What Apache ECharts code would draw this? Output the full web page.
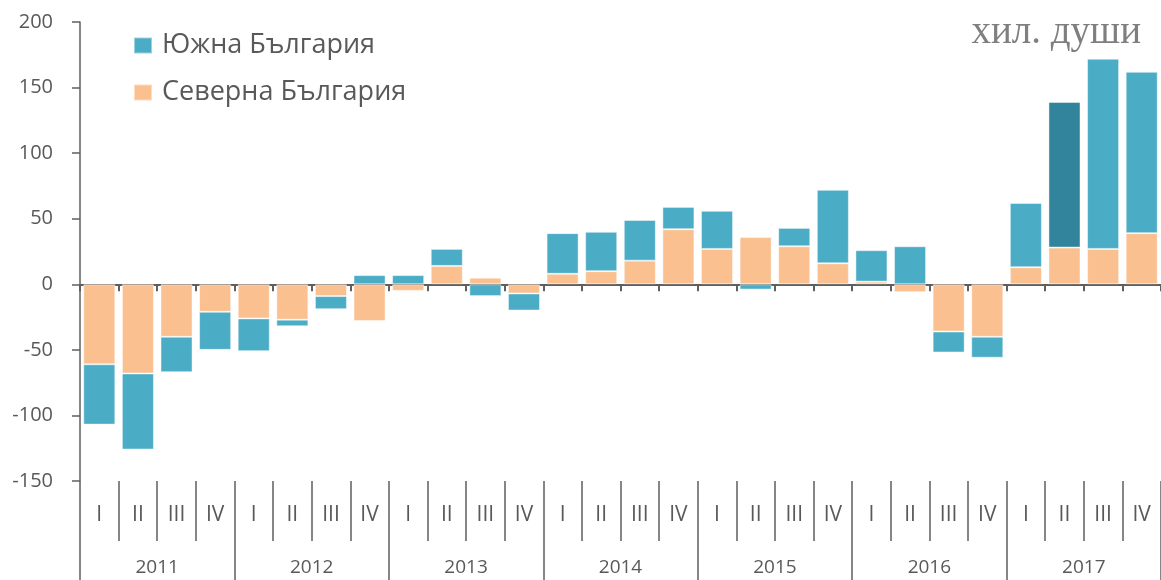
<!DOCTYPE html>
<html>
<head>
<meta charset="utf-8">
<script src="https://cdn.jsdelivr.net/npm/echarts@6/dist/echarts.min.js"></script>
<style>
  html, body { margin: 0; padding: 0; background: #fff; }
  #chart { width: 1161px; height: 580px; }
</style>
</head>
<body>
<div id="chart"></div>
<script>
var quarters = ['I', 'II', 'III', 'IV', 'I', 'II', 'III', 'IV', 'I', 'II', 'III', 'IV', 'I', 'II',
  'III', 'IV', 'I', 'II', 'III', 'IV', 'I', 'II', 'III', 'IV', 'I', 'II', 'III', 'IV'];
var years = ['2011', '2012', '2013', '2014', '2015', '2016', '2017'];
var north = [-61, -68, -40, -21, -26, -27, -9, -28, -5, 14, 5, -7, 8, 10,
  18, 42, 27, 36, 29, 16, 2, -6, -36, -40, 13, 28, 27, 39];
var south = [-46, -58, -27, -29, -25, -5, -10, 7, 7, 13, -9, -13, 31, 30,
  31, 17, 29, -4, 14, 56, 24, 29, -16, -16, 49, 111, 145, 123];
var yTicks = [-150, -100, -50, 0, 50, 100, 150, 200];
var highlightIdx = 25; // 2017 II

var myChart = echarts.init(document.getElementById('chart'));
var axisColor = '#5f5f5f';
var textColor = '#595959';
var font = 'Open Sans';

var southData = south.map(function (v, i) {
  if (i === highlightIdx) {
    return { value: v, itemStyle: { color: '#31849b' } };
  }
  return v;
});

var option = {
  animation: false,
  title: {
    text: 'хил. души',
    right: 15,
    top: 8,
    textStyle: {
      fontFamily: 'Liberation Serif',
      fontWeight: 'normal',
      fontSize: 39,
      color: '#7f7f7f'
    }
  },
  legend: {
    data: ['Южна България', 'Северна България'],
    orient: 'vertical',
    left: 128,
    top: 27,
    itemWidth: 18,
    itemHeight: 16,
    itemGap: 20,
    icon: 'rect',
    textStyle: {
      fontFamily: font,
      fontSize: 27,
      color: textColor,
      padding: [0, 0, 0, 5]
    }
  },
  grid: {
    left: 80,
    right: -5,
    top: 22,
    bottom: 99
  },
  xAxis: [
    {
      type: 'category',
      data: quarters,
      position: 'bottom',
      axisLine: { onZero: true, lineStyle: { color: axisColor, width: 2 } },
      axisTick: { show: true, length: 7, interval: 0, lineStyle: { color: axisColor, width: 2 } },
      axisLabel: { show: false }
    },
    {
      type: 'category',
      data: quarters,
      position: 'bottom',
      axisLine: { show: false, onZero: false },
      axisTick: { show: true, length: 60, interval: 0, lineStyle: { color: axisColor, width: 1.5 } },
      axisLabel: {
        interval: 0,
        margin: 24,
        fontFamily: font,
        fontSize: 21,
        color: textColor
      }
    },
    {
      type: 'category',
      data: years,
      position: 'bottom',
      axisLine: { show: false, onZero: false },
      axisTick: { show: true, length: 99, interval: 0, lineStyle: { color: axisColor, width: 1.5 } },
      axisLabel: {
        interval: 0,
        margin: 77,
        fontFamily: font,
        fontSize: 19,
        color: textColor
      }
    }
  ],
  yAxis: {
    type: 'value',
    min: yTicks[0],
    max: yTicks[yTicks.length - 1],
    interval: 50,
    axisLine: { show: true, lineStyle: { color: axisColor, width: 1.5 } },
    axisTick: { show: true, length: 8, lineStyle: { color: axisColor, width: 1.5 } },
    splitLine: { show: false },
    axisLabel: {
      margin: 27,
      fontFamily: font,
      fontSize: 20,
      color: textColor
    }
  },
  series: [
    {
      name: 'Северна България',
      type: 'bar',
      stack: 'total',
      xAxisIndex: 0,
      barCategoryGap: '17%',
      itemStyle: { color: '#fac090', borderColor: 'rgba(255,255,255,0.45)', borderWidth: 1 },
      data: north
    },
    {
      name: 'Южна България',
      type: 'bar',
      stack: 'total',
      xAxisIndex: 0,
      barCategoryGap: '17%',
      itemStyle: { color: '#4bacc6', borderColor: 'rgba(255,255,255,0.45)', borderWidth: 1 },
      data: southData
    }
  ]
};
myChart.setOption(option);
</script>
</body>
</html>
